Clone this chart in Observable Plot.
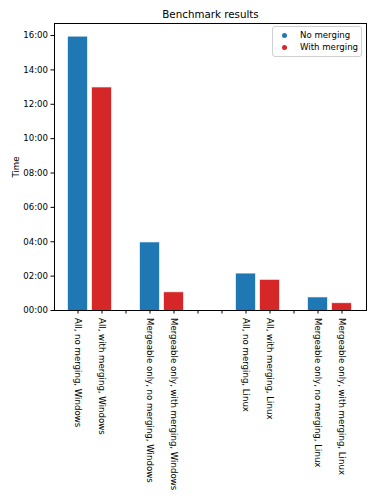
<!DOCTYPE html>
<html>
<head>
<meta charset="utf-8">
<script src="https://cdn.jsdelivr.net/npm/d3@7"></script>
<script src="https://cdn.jsdelivr.net/npm/@observablehq/plot@0.6"></script>
<style>
  body { margin: 0; background: #fff; }
  #wrap { position: relative; width: 375px; height: 500px; font-family: "DejaVu Sans", sans-serif; }
  #legend { position: absolute; left: 272px; top: 26px; width: 88px; height: 29px; border: 1px solid #d0d0d0; border-radius: 3px; background: rgba(255,255,255,0.85); font-size: 8.6px; color: #000; }
  .row { position: absolute; left: 0; width: 88px; height: 12px; line-height: 12px; }
  .dot { position: absolute; left: 9px; top: 4px; width: 5px; height: 5px; border-radius: 50%; }
  .lab { position: absolute; left: 27px; top: 0; white-space: nowrap; }
</style>
</head>
<body>
<div id="wrap"></div>
<script>
const labels = [
  "All, no merging, Windows", "All, with merging, Windows", "",
  "Mergeable only, no merging, Windows", "Mergeable only, with merging, Windows", "", "",
  "All, no merging, Linux", "All, with merging, Linux", "",
  "Mergeable only, no merging, Linux", "Mergeable only, with merging, Linux"
];
// times in seconds (null = empty slot)
const times = [954, 777, null, 236, 62, null, null, 127, 105, null, 44, 24];
const series = ["No merging", "With merging", null, "No merging", "With merging", null, null, "No merging", "With merging", null, "No merging", "With merging"];
const seriesNames = ["No merging", "With merging"];
const seriesColors = ["#1f77b4", "#d62728"];
const yTicks = [0, 120, 240, 360, 480, 600, 720, 840, 960];
const title = "Benchmark results";
const yLabel = "Time";

const data = labels.map((l, i) => ({i, label: l, t: times[i], s: series[i]})).filter(d => d.t != null);
const fmt = s => String(Math.floor(s / 60)).padStart(2, "0") + ":" + String(s % 60).padStart(2, "0");

const chart = Plot.plot({
  width: 375, height: 500,
  marginTop: 23, marginBottom: 190, marginLeft: 54, marginRight: 9,
  style: {fontFamily: "DejaVu Sans, sans-serif", fontSize: "8.6px", color: "#000", background: "#fff"},
  x: {type: "band", domain: d3.range(labels.length), paddingInner: 0.2, paddingOuter: 0.59, align: 0.5},
  y: {domain: [0, 1002]},
  color: {domain: seriesNames, range: seriesColors},
  marks: [
    Plot.barY(data, {x: "i", y: "t", fill: "s", stroke: "s", strokeOpacity: 0.35, strokeWidth: 1, inset: 0}),
    Plot.frame({stroke: "#000", strokeWidth: 1}),
    Plot.axisY({ticks: yTicks, tickFormat: fmt, tickSize: 3.5, tickPadding: 3, label: yLabel, labelAnchor: "center", labelArrow: "none", labelOffset: 42}),
    Plot.axisX({tickFormat: i => labels[i], tickSize: 3.5, tickPadding: 4, tickRotate: 90, label: null}),
    Plot.text([title], {text: d => d, frameAnchor: "top", dy: -6, lineAnchor: "bottom", fontSize: 10.3})
  ]
});

const wrap = document.getElementById("wrap");
wrap.appendChild(chart);
const leg = document.createElement("div");
leg.id = "legend";
seriesNames.forEach((n, k) => {
  const row = document.createElement("div");
  row.className = "row";
  row.style.top = (2 + k * 12) + "px";
  row.innerHTML = `<span class="dot" style="background:${seriesColors[k]}"></span><span class="lab">${n}</span>`;
  leg.appendChild(row);
});
wrap.appendChild(leg);
</script>
</body>
</html>
